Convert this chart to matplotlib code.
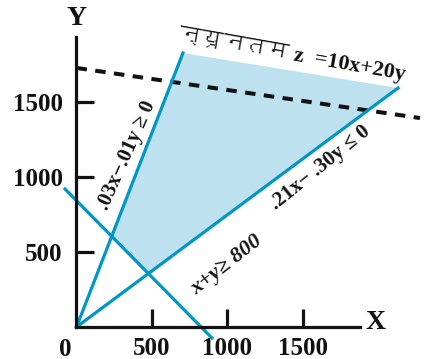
import matplotlib
matplotlib.use("Agg")
import matplotlib.pyplot as plt
from matplotlib import font_manager
from matplotlib.ft2font import FT2Font

# --- data ---
line1_x = [0, 705]          # .03x - .01y >= 0
line1_y = [0, 1827]
line2_x = [0, 2129]         # .21x - .30y <= 0
line2_y = [0, 1593]
line3_x = [-76, 897]        # x + y >= 800
line3_y = [920, -73]
obj_x = [0, 2275]           # z = 10x + 20y (dashed)
obj_y = [1727, 1393]
region_x = [235, 705, 2129, 473]
region_y = [600, 1827, 1593, 353]

ticks = [500, 1000, 1500]
tick_labels = ["500", "1000", "1500"]

blue = "#0096c8"
fill = "#bee1f0"
serif = "Liberation Serif"


def find_family(ch):
    # look for an installed font that has the Devanagari glyph
    for f in font_manager.fontManager.ttflist:
        try:
            if FT2Font(f.fname).get_char_index(ord(ch)):
                return f.name
        except Exception:
            pass
    return None


deva = find_family("न")
title_fam = [serif, deva, "DejaVu Sans"] if deva else [serif, "DejaVu Sans"]

fig = plt.figure(figsize=(4.26, 3.59), dpi=100)
ax = fig.add_axes([0, 0, 1, 1])
ax.set_xlim(-506.6, 2314.6)
ax.set_ylim(-213.3, 2180)

ax.fill(region_x, region_y, color=fill, lw=0, zorder=1)
ax.plot(line1_x, line1_y, color=blue, lw=2.3, zorder=3)
ax.plot(line2_x, line2_y, color=blue, lw=2.3, zorder=3)
ax.plot(line3_x, line3_y, color=blue, lw=2.3, zorder=3)
ax.plot(obj_x, obj_y, color="#111111", lw=2.9, dashes=(2.6, 2.1), zorder=2)

# axes drawn through the origin
for s in ["top", "right"]:
    ax.spines[s].set_visible(False)
ax.spines["left"].set_position(("data", 0))
ax.spines["bottom"].set_position(("data", 0))
ax.spines["left"].set_bounds(0, 1933)
ax.spines["bottom"].set_bounds(0, 1877)
for s in ["left", "bottom"]:
    ax.spines[s].set_linewidth(2.3)
    ax.spines[s].set_color("#111111")
    ax.spines[s].set_zorder(4)

ax.set_xticks(ticks)
ax.set_yticks(ticks)
ax.set_xticklabels(tick_labels)
ax.set_yticklabels(tick_labels)
ax.tick_params(direction="in", length=13, width=2.3, color="#111111",
               labelsize=18, labelcolor="#111111")
ax.tick_params(axis="x", pad=7)
ax.tick_params(axis="y", pad=10)
for lab in ax.get_xticklabels() + ax.get_yticklabels():
    lab.set_family(serif)
    lab.set_weight("bold")

# origin label sits at the same height as the x tick labels
ax.text(-76, -70, "0", fontsize=18, family=serif, weight="bold",
        ha="center", va="top", color="#111111")
ax.text(0, 2060, "Y", fontsize=20, family=serif, weight="bold",
        ha="center", va="center", color="#111111")
ax.text(1980, 27, "X", fontsize=20, family=serif, weight="bold",
        ha="center", va="center", color="#111111")

ax.text(334, 1147, ".03x\u2212.01y \u2265 0", fontsize=15, family=serif, weight="bold",
        rotation=66, ha="center", va="center", color="#111111")
ax.text(1612, 1060, ".21x\u2212 .30y \u2264 0", fontsize=15, family=serif, weight="bold",
        rotation=39, ha="center", va="center", color="#111111")
ax.text(997, 413, "x+y\u2265 800", fontsize=16, family=serif, weight="bold",
        style="italic", rotation=38, ha="center", va="center", color="#111111")
ax.text(1427, 1813, "न्यूनतम z  =10x+20y", fontsize=16, family=title_fam,
        weight="bold", rotation=-10, ha="center", va="center", color="#111111")

fig.savefig("out.png", dpi=100)
